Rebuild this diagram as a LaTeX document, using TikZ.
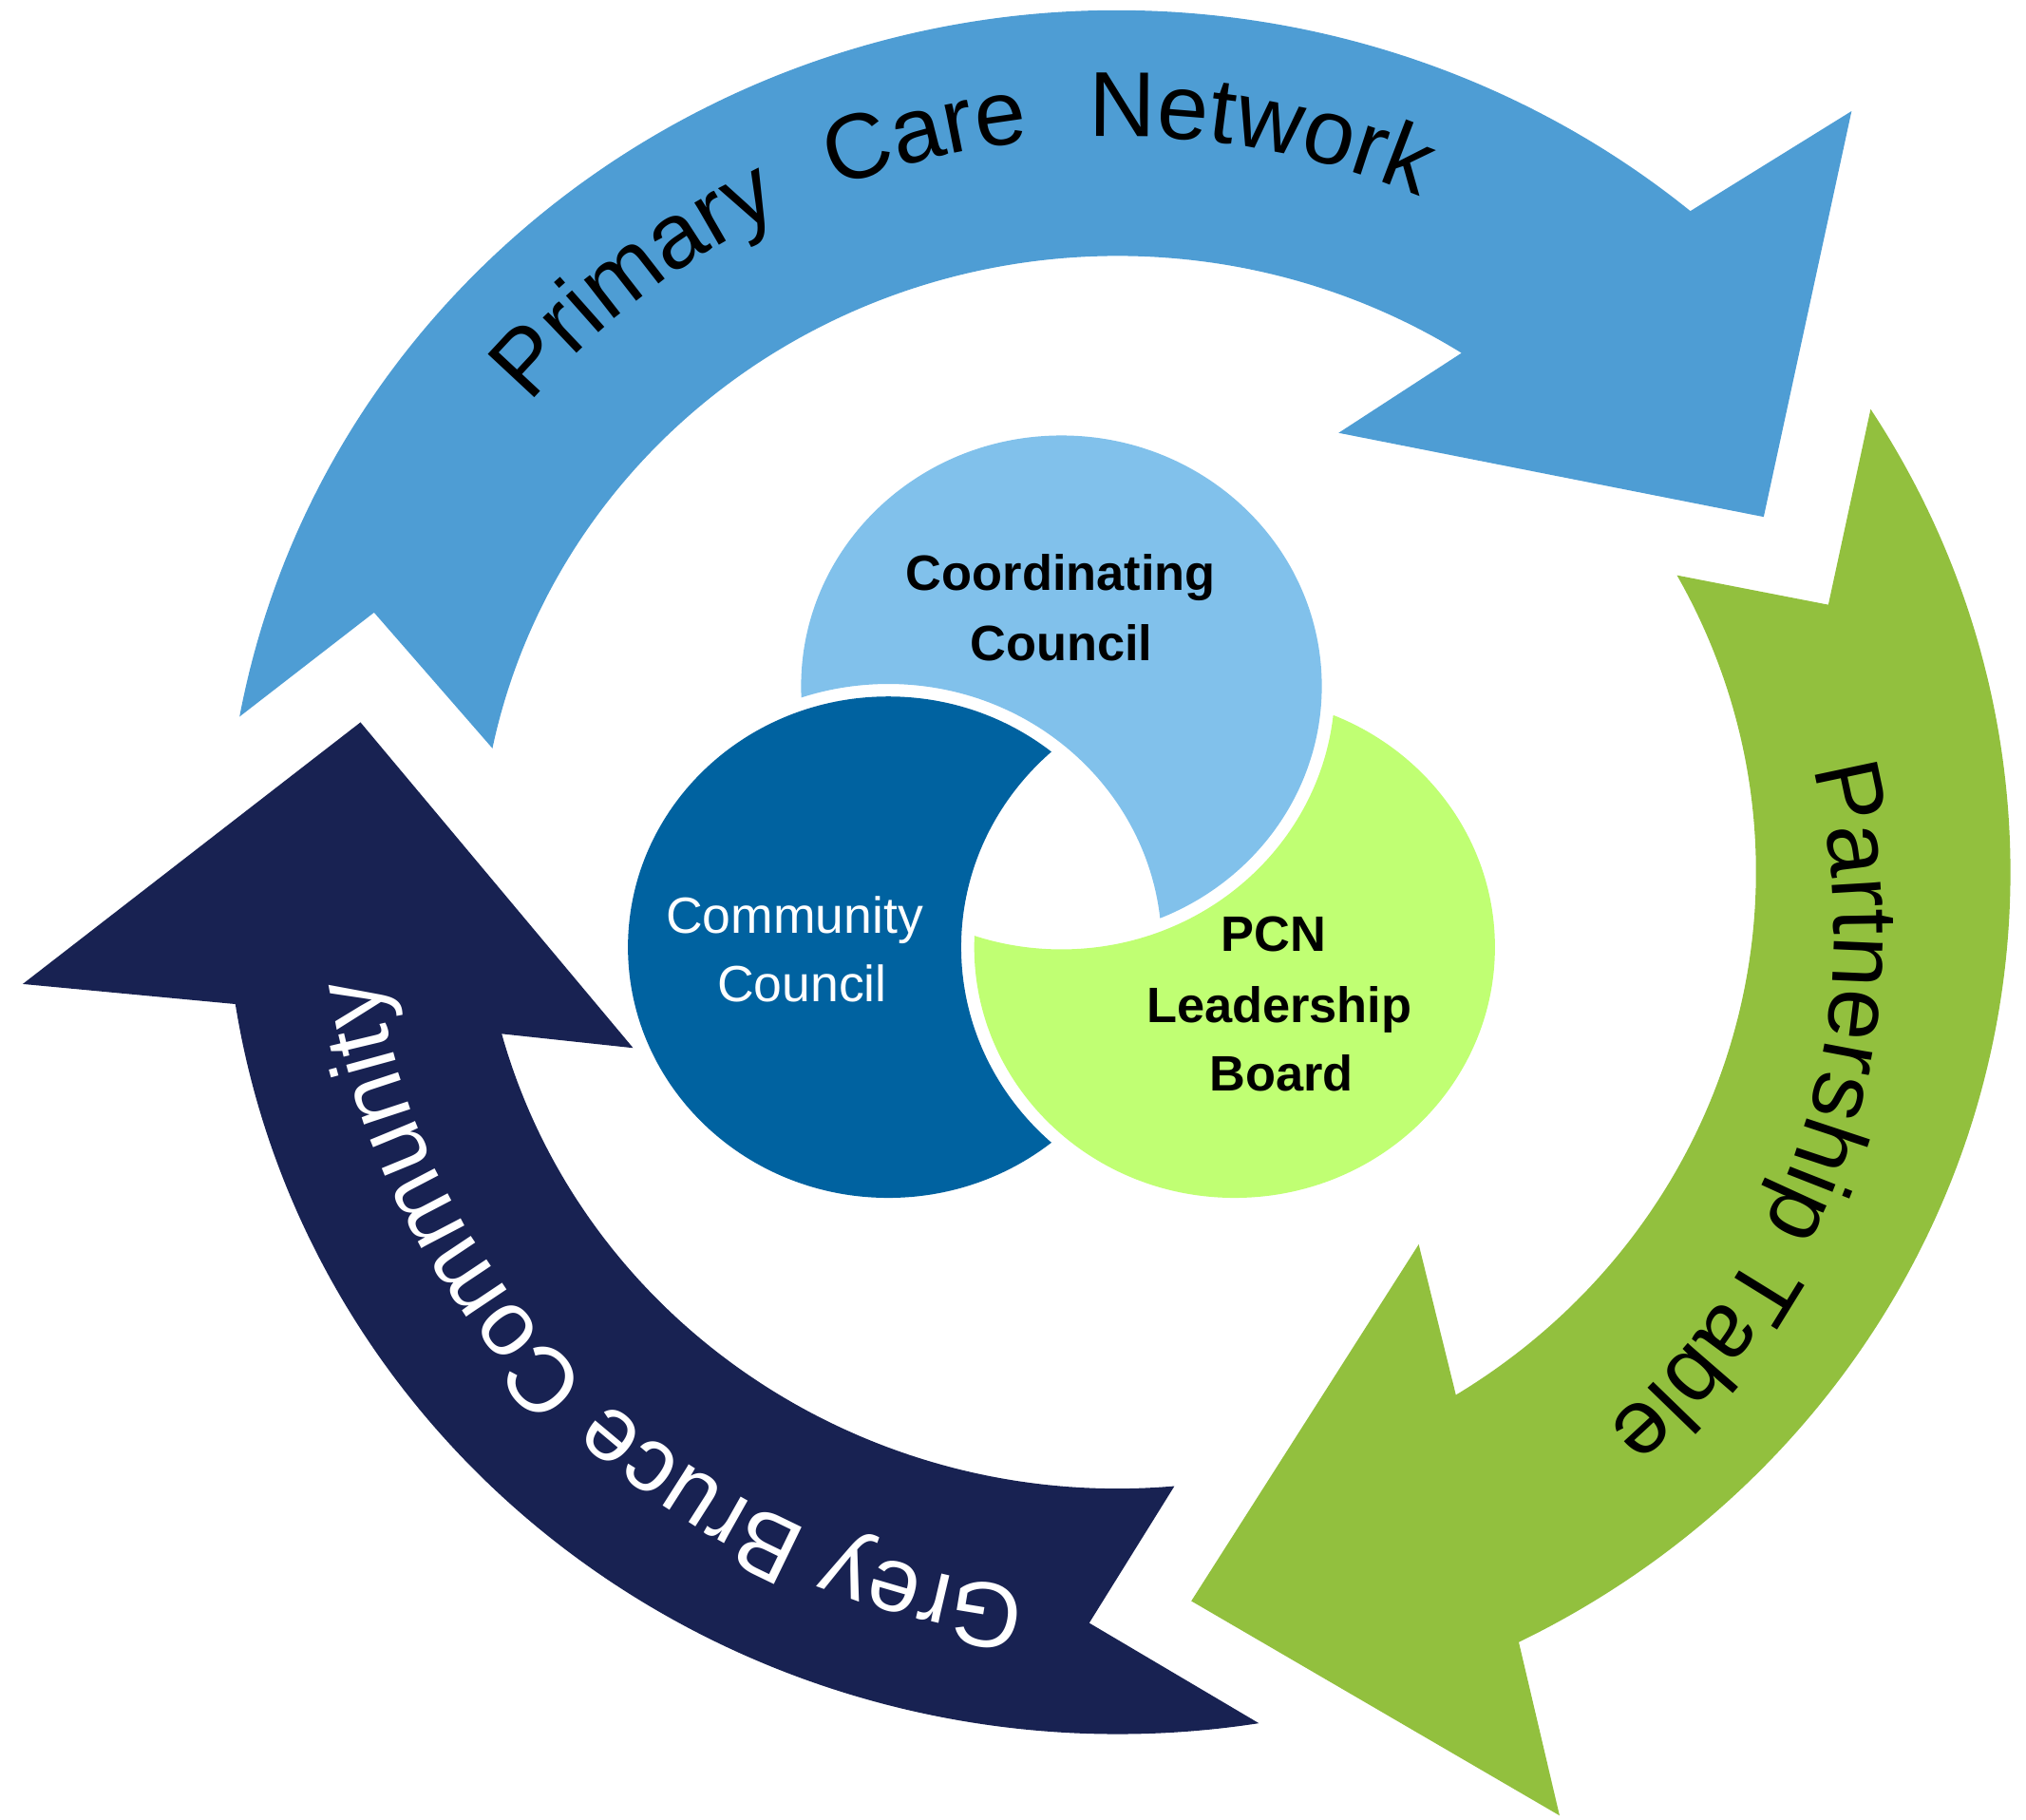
\documentclass[tikz,border=0pt]{standalone}
\usepackage{fontspec}
\setmainfont{Liberation Sans}
\usetikzlibrary{decorations.text}
\definecolor{pcnblue}{RGB}{78,157,212}
\definecolor{ptgreen}{RGB}{146,192,62}
\definecolor{gbnavy}{RGB}{24,34,82}
\definecolor{ccblue}{RGB}{129,193,235}
\definecolor{comblue}{RGB}{0,98,160}
\definecolor{pcngreen}{RGB}{192,255,115}
\newcommand\arclabelfont{\fontsize{20.3pt}{24pt}\selectfont}
\begin{document}
\begin{tikzpicture}[x=0.01cm,y=-0.01cm,
  ringlabel/.style={decorate, decoration={text along path, text align={fit to path stretching spaces}}},
  boldlabel/.style={anchor=base, inner sep=0pt, font=\fontsize{10.95pt}{13pt}\selectfont\bfseries},
  whitelabel/.style={anchor=base, inner sep=0pt, text=white, font=\fontsize{11.2pt}{13pt}\selectfont}]
\useasboundingbox (0,0) rectangle (1568,1408);

% ---- outer ring arrows (common ellipse centre 865,675) ----
% Primary Care Network (blue)
\fill[pcnblue] ({865+691*cos(190.4)},{675+667*sin(190.4)})
  arc[start angle=190.4, end angle=309.9, x radius=691, y radius=667]
  -- (1433,86) -- (1365,400) -- (1036,335)
  -- ({865+494*cos(302.6)},{675+477*sin(302.6)})
  arc[start angle=302.6, end angle=191.6, x radius=494, y radius=477]
  -- (289.5,474) -- cycle;
% Partnership Table (green)
\fill[ptgreen] ({865+691*cos(327.5)},{675+667*sin(327.5)})
  arc[start angle=327.5, end angle=423.3, x radius=691, y radius=667]
  -- (1207,1405) -- (922,1239) -- (1098,963)
  -- ({865+494*cos(418)},{675+477*sin(418)})
  arc[start angle=418, end angle=331.2, x radius=494, y radius=477]
  -- (1415,468) -- cycle;
% Grey Bruce Community (navy)
\fill[gbnavy] ({865+691*cos(80.9)},{675+667*sin(80.9)})
  arc[start angle=80.9, end angle=171.2, x radius=691, y radius=667]
  -- (17.6,761.5) -- (279,559) -- (490,811)
  -- ({865+494*cos(164.8)},{675+477*sin(164.8)})
  arc[start angle=164.8, end angle=84.9, x radius=494, y radius=477]
  -- (843,1256) -- cycle;

% ---- ring labels ----
\path[ringlabel, decoration={text={|\arclabelfont|Primary Care Network}}]
  ({865+590*cos(219.6)},{675+569.5*sin(219.6)})
  arc[start angle=219.6, end angle=293.3, x radius=590, y radius=569.5];
\path[ringlabel, decoration={text={|\arclabelfont|Partnership Table}}]
  ({916.5+503*cos(-14.7)},{722+503*sin(-14.7)})
  arc[start angle=-14.7, end angle=49.5, radius=503];
\path[ringlabel, decoration={text color=white, text={|\arclabelfont|Grey Bruce Community}}]
  ({865+579*cos(97)},{675+559*sin(97)})
  arc[start angle=97, end angle=171.4, x radius=579, y radius=559];

% ---- central interlocking shapes (each circle with a bite) ----
\begin{scope}
  \clip (821.5,531) ellipse [x radius=201.5, y radius=194];
  \fill[ccblue, even odd rule] (300,100) rectangle (1300,1100)
    (687.5,733) ellipse [x radius=211.6, y radius=203.7];
\end{scope}
\begin{scope}
  \clip (687.5,733) ellipse [x radius=201.5, y radius=194];
  \fill[comblue, even odd rule] (300,100) rectangle (1300,1100)
    (955.5,733) ellipse [x radius=211.6, y radius=203.7];
\end{scope}
\begin{scope}
  \clip (955.5,733) ellipse [x radius=201.5, y radius=194];
  \fill[pcngreen, even odd rule] (300,100) rectangle (1300,1100)
    (821.5,531) ellipse [x radius=211.6, y radius=203.7];
\end{scope}

% ---- central labels ----
\node[boldlabel] (cc1) at (821,456.7) {Coordinating};
\node[boldlabel] (cc2) at (821.3,511) {Council};
\node[boldlabel] (pcn1) at (986,736) {PCN};
\node[boldlabel] (pcn2) at (990,791) {Leadership};
\node[boldlabel] (pcn3) at (991.8,844) {Board};
\node[whitelabel] (com1) at (615,722) {Community};
\node[whitelabel] (com2) at (620.7,775) {Council};
\end{tikzpicture}
\end{document}
